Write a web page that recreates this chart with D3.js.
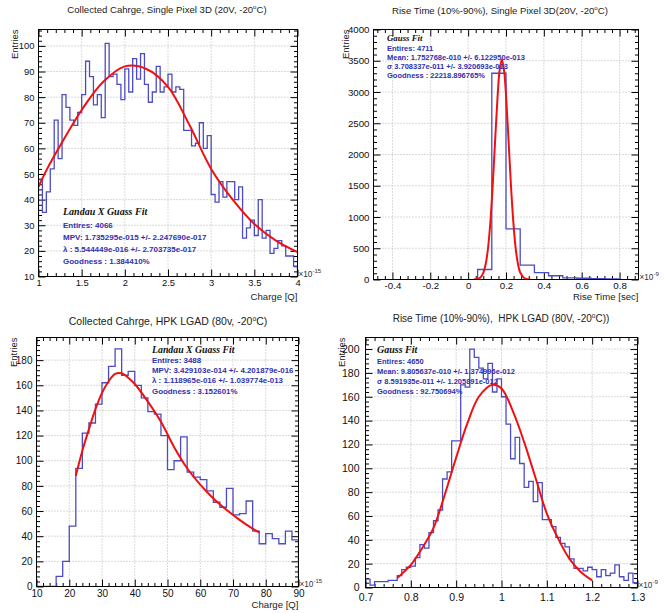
<!DOCTYPE html>
<html>
<head>
<meta charset="utf-8">
<script src="https://cdn.jsdelivr.net/npm/d3@7"></script>
<style>
body { margin: 0; background: #fff; }
svg text { font-family: "Liberation Sans", Arial, sans-serif; white-space: pre; }
</style>
</head>
<body>
<script>
// ---- data ----
// 1. collected charge, single pixel 3D  (x in units of 1e-15)
const charge3dRange = [1, 4];
const charge3dCounts = [48, 35, 43, 52, 71, 56, 81, 76, 71, 69, 74, 81, 94, 88, 77, 81, 72, 101, 88, 89, 85, 79,
  91, 82, 95, 87, 97, 85, 78, 82, 92, 82, 84, 89, 82, 84, 83, 67, 67, 61, 62, 70, 60, 65,
  42, 39, 47, 41, 47, 47, 40, 45, 25, 29, 32, 26, 40, 25, 28, 19, 21, 24, 22, 18, 18, 14];
const charge3dFitX = [1.0, 1.1, 1.25, 1.5, 1.75, 2.0, 2.25, 2.5, 2.75, 3.0, 3.25, 3.5, 3.75, 4.0];
const charge3dFitY = [45, 52, 61, 75, 86, 92, 91, 84, 69, 52, 40, 30.5, 24, 19.5];
const charge3dLegend = ["Entires: 4066", "MPV: 1.735295e-015 +/- 2.247690e-017",
  "\u03bb : 5.544449e-016 +/- 2.703735e-017", "Goodness : 1.384410%"];

// 2. rise time, single pixel 3D  (x in units of 1e-9)
const rise3dRange = [0.05, 0.8];
const rise3dCounts = [160, 3300, 810, 230, 110, 60, 25, 20, 15, 10];
const rise3dFitX = [0.03, 0.055, 0.0675, 0.08, 0.0925, 0.105, 0.1175, 0.13, 0.1425, 0.155, 0.166, 0.178,
  0.19, 0.2, 0.2125, 0.225, 0.2375, 0.25, 0.2625, 0.275, 0.3, 0.33];
const rise3dFitY = [1, 14, 42, 106, 243, 500, 920, 1520, 2220, 2900, 3340, 3520,
  3340, 2950, 2280, 1570, 970, 530, 260, 113, 16, 1];
const rise3dLegend = ["Entires: 4711", "Mean: 1.752768e-010 +/- 6.122950e-013",
  "\u03c3 3.708337e-011 +/- 3.920693e-013", "Goodness : 22218.896765%"];

// 3. collected charge, HPK LGAD  (x in units of 1e-15)
const chargeLgadRange = [10, 90];
const chargeLgadCounts = [0, 0, 0, 8, 20, 48, 94, 122, 130, 145, 162, 175, 189, 168, 171, 160, 150, 139, 137, 120,
  93, 100, 119, 91, 87, 85, 76, 67, 63, 78, 57, 58, 68, 44, 34, 42, 38, 34, 44, 37];
const chargeLgadFitX = [22, 24, 26, 28, 30, 32, 34, 36, 38, 40, 44, 48, 52, 56, 60, 64, 68, 72, 76, 78];
const chargeLgadFitY = [88, 108, 125, 141, 154, 163, 169, 169.5, 166, 161, 147, 131, 111, 94, 81, 70, 61, 53, 46, 43];
const chargeLgadLegend = ["Entires: 3488", "MPV: 3.429103e-014 +/- 4.201879e-016",
  "\u03bb : 1.118965e-016 +/- 1.039774e-013", "Goodness : 3.152601%"];

// 4. rise time, HPK LGAD  (x in units of 1e-9)
const riseLgadRange = [0.7, 1.3];
const riseLgadCounts = [7, 2, 5, 5, 5, 6, 6, 10, 15, 17, 18, 25, 36, 33, 46, 56, 65, 91, 97, 123,
  123, 170, 168, 200, 193, 184, 175, 188, 164, 175, 160, 137, 108, 126, 104, 84, 89, 72, 88, 57,
  57, 51, 42, 37, 34, 24, 16, 16, 14, 17, 15, 9, 15, 10, 12, 19, 9, 6, 12, 4];
const riseLgadFitX = [0.77, 0.8, 0.825, 0.85, 0.875, 0.9, 0.925, 0.95, 0.98, 1.0, 1.025, 1.05, 1.075, 1.1, 1.125, 1.15, 1.175, 1.2];
const riseLgadFitY = [8, 19, 33, 50, 78, 109, 138, 160, 170, 167, 148, 122, 92, 62, 41, 24, 13, 6];
const riseLgadLegend = ["Entires: 4650", "Mean: 9.805637e-010 +/- 1.374996e-012",
  "\u03c3 8.591935e-011 +/- 1.205891e-012", "Goodness : 92.750694%"];

const svg = d3.select("body").append("svg").attr("width", 664).attr("height", 613);

// tick values in [lo,hi] on a step grid (integer maths to avoid float drift)
function stepTicks(lo, hi, step, skipEvery) {
  const out = [];
  for (let k = Math.ceil(lo / step - 1e-9); k * step <= hi + 1e-9; k++) {
    if (skipEvery && k % skipEvery === 0) continue;
    out.push(+(k * step).toFixed(6));
  }
  return out;
}
const fmt = d => String(+d.toFixed(4));

function drawPanel(p) {
  const w = p.box.w, h = p.box.h;
  const g = svg.append("g").attr("transform", "translate(" + p.box.x + "," + p.box.y + ")");
  const x = d3.scaleLinear().domain(p.xDomain).range([0, w]);
  const y = d3.scaleLinear().domain(p.yDomain).range([h, 0]);

  const xMaj = stepTicks(p.xDomain[0], p.xDomain[1], p.xStep);
  const yMaj = stepTicks(p.yDomain[0], p.yDomain[1], p.yStep);
  const xMin = stepTicks(p.xDomain[0], p.xDomain[1], p.xStep / 5, 5);
  const yMin = stepTicks(p.yDomain[0], p.yDomain[1], p.yStep / 5, 5);

  // dotted grid
  g.append("g").selectAll("line").data(xMaj.filter(v => x(v) > 1 && x(v) < w - 1)).enter().append("line")
    .attr("x1", d => x(d)).attr("x2", d => x(d)).attr("y1", 0).attr("y2", h)
    .attr("stroke", "#b4b4b4").attr("stroke-dasharray", "1,2");
  g.append("g").selectAll("line").data(yMaj.filter(v => y(v) > 1 && y(v) < h - 1)).enter().append("line")
    .attr("y1", d => y(d)).attr("y2", d => y(d)).attr("x1", 0).attr("x2", w)
    .attr("stroke", "#b4b4b4").attr("stroke-dasharray", "1,2");

  // axes: ticks inside the frame on all four sides
  const majLen = 7, minLen = 3.5;
  const styleAxis = sel => {
    sel.select(".domain").remove();
    sel.selectAll("line").attr("stroke", "#000");
    sel.selectAll("text").attr("font-size", p.tickFont).attr("fill", "#111")
      .style("font-family", "'Liberation Sans', Arial, sans-serif");
  };
  g.append("g").attr("transform", "translate(0," + h + ")")
    .call(d3.axisBottom(x).tickValues(xMaj).tickSizeInner(-majLen).tickSizeOuter(0).tickPadding(p.xPad).tickFormat(fmt)).call(styleAxis);
  g.append("g").attr("transform", "translate(0," + h + ")")
    .call(d3.axisBottom(x).tickValues(xMin).tickSizeInner(-minLen).tickSizeOuter(0).tickFormat("")).call(styleAxis);
  g.append("g").call(d3.axisTop(x).tickValues(xMaj).tickSizeInner(-majLen).tickSizeOuter(0).tickFormat("")).call(styleAxis);
  g.append("g").call(d3.axisTop(x).tickValues(xMin).tickSizeInner(-minLen).tickSizeOuter(0).tickFormat("")).call(styleAxis);
  g.append("g")
    .call(d3.axisLeft(y).tickValues(yMaj).tickSizeInner(-majLen).tickSizeOuter(0).tickPadding(p.yPad).tickFormat(fmt)).call(styleAxis);
  g.append("g").call(d3.axisLeft(y).tickValues(yMin).tickSizeInner(-minLen).tickSizeOuter(0).tickFormat("")).call(styleAxis);
  g.append("g").attr("transform", "translate(" + w + ",0)")
    .call(d3.axisRight(y).tickValues(yMaj).tickSizeInner(-majLen).tickSizeOuter(0).tickFormat("")).call(styleAxis);
  g.append("g").attr("transform", "translate(" + w + ",0)")
    .call(d3.axisRight(y).tickValues(yMin).tickSizeInner(-minLen).tickSizeOuter(0).tickFormat("")).call(styleAxis);

  // clip region for the marks
  g.append("clipPath").attr("id", p.id + "-clip").append("rect").attr("width", w).attr("height", h);
  const plot = g.append("g").attr("clip-path", "url(#" + p.id + "-clip)");

  // histogram outline
  const n = p.counts.length;
  const edge = i => p.range[0] + i * (p.range[1] - p.range[0]) / n;
  const base = p.yDomain[0];
  const pts = [[edge(0), base]].concat(p.counts.map((v, i) => [edge(i), v]), [[edge(n), base]]);
  plot.append("path").datum(pts)
    .attr("d", d3.line().x(d => x(d[0])).y(d => y(d[1])).curve(d3.curveStepAfter))
    .attr("fill", "none").attr("stroke", "#4b4bc6").attr("stroke-width", 1.3);

  // fit curve
  const fit = p.fitX.map((v, i) => [v, p.fitY[i]]);
  plot.append("path").datum(fit)
    .attr("d", d3.line().x(d => x(d[0])).y(d => y(d[1])).curve(d3.curveCatmullRom))
    .attr("fill", "none").attr("stroke", "#f01010").attr("stroke-width", 2);

  // frame
  g.append("rect").attr("width", w).attr("height", h).attr("fill", "none").attr("stroke", "#000");

  // title with superscript degree "o"
  const t = svg.append("text").attr("x", p.title.x).attr("y", p.title.y)
    .attr("text-anchor", "middle").attr("font-size", p.title.size).attr("fill", "#222");
  t.append("tspan").text(p.title.pre);
  t.append("tspan").text("o").attr("font-size", p.title.size * 0.65).attr("dy", -p.title.size * 0.4);
  t.append("tspan").text(p.title.post).attr("dy", p.title.size * 0.4);

  // axis titles
  svg.append("text").attr("transform", "translate(" + p.yLabel.x + "," + p.box.y + ") rotate(-90)")
    .attr("text-anchor", "end").attr("font-size", p.yLabel.size).attr("fill", "#222").text("Entries");
  if (p.xLabel) {
    svg.append("text").attr("x", p.box.x + w).attr("y", p.xLabel.y).attr("text-anchor", "end")
      .attr("font-size", p.xLabel.size).attr("fill", "#222").text(p.xLabel.text);
  }
  // exponent of the x axis
  const ex = svg.append("text").attr("x", p.box.x + w + 1).attr("y", p.box.y + h)
    .attr("font-size", p.expSize).attr("fill", "#333");
  ex.append("tspan").text("\u00d710");
  ex.append("tspan").text(p.exp).attr("font-size", p.expSize * 0.75).attr("dy", -p.expSize * 0.45);

  // fit legend
  const lg = p.legend;
  svg.append("text").attr("x", lg.x).attr("y", lg.y).attr("font-size", lg.headSize)
    .attr("font-weight", "bold").attr("font-style", "italic").attr("fill", "#111")
    .style("font-family", "'Liberation Serif', 'Times New Roman', serif").text(lg.head);
  svg.append("g").selectAll("text").data(p.legendLines).enter().append("text")
    .attr("x", lg.x).attr("y", (d, i) => lg.y + lg.first + i * lg.step)
    .attr("font-size", lg.size).attr("font-weight", "bold").attr("fill", "#3030b0").text(d => d);
}

drawPanel({
  id: "p1", box: { x: 38.5, y: 29.5, w: 259, h: 247 },
  xDomain: [1, 4], yDomain: [10, 106.4], xStep: 0.5, yStep: 10,
  range: charge3dRange, counts: charge3dCounts, fitX: charge3dFitX, fitY: charge3dFitY,
  tickFont: 9.4, xPad: 3, yPad: 4,
  title: { x: 167, y: 13, size: 9.6, pre: "Collected Cahrge, Single Pixel 3D (20V, -20", post: "C)" },
  yLabel: { x: 18, size: 9.5 }, xLabel: { y: 299.5, size: 9.6, text: "Charge [Q]" },
  exp: "-15", expSize: 8.2,
  legend: { x: 63, y: 215, head: "Landau X Guass Fit", headSize: 10, size: 8, first: 13, step: 12 },
  legendLines: charge3dLegend
});

drawPanel({
  id: "p2", box: { x: 373.5, y: 29.5, w: 265, h: 250 },
  xDomain: [-0.5, 0.9], yDomain: [0, 4000], xStep: 0.2, yStep: 500,
  range: rise3dRange, counts: rise3dCounts, fitX: rise3dFitX, fitY: rise3dFitY,
  tickFont: 9.7, xPad: 3, yPad: 4,
  title: { x: 500, y: 14, size: 9.6, pre: "Rise Time (10%-90%), Single Pixel 3D(20V, -20", post: "C)" },
  yLabel: { x: 349, size: 9.5 }, xLabel: { y: 300, size: 9.6, text: "Rise Time [sec]" },
  exp: "-9", expSize: 8.2,
  legend: { x: 387, y: 41, head: "Gauss Fit", headSize: 8.8, size: 7.5, first: 9.5, step: 9 },
  legendLines: rise3dLegend
});

drawPanel({
  id: "p3", box: { x: 36.5, y: 337.5, w: 262, h: 249 },
  xDomain: [10, 90], yDomain: [0, 198], xStep: 10, yStep: 20,
  range: chargeLgadRange, counts: chargeLgadCounts, fitX: chargeLgadFitX, fitY: chargeLgadFitY,
  tickFont: 10, xPad: 3.5, yPad: 4,
  title: { x: 168, y: 325, size: 10.5, pre: "Collected Cahrge, HPK LGAD (80v, -20", post: "C)" },
  yLabel: { x: 17, size: 9.5 }, xLabel: { y: 608, size: 9.6, text: "Charge [Q]" },
  exp: "-15", expSize: 8.2,
  legend: { x: 152, y: 352.5, head: "Landau X Guass Fit", headSize: 9.8, size: 7.9, first: 10.5, step: 10.2 },
  legendLines: chargeLgadLegend
});

drawPanel({
  id: "p4", box: { x: 365.5, y: 337.5, w: 272, h: 250 },
  xDomain: [0.7, 1.3], yDomain: [0, 209.7], xStep: 0.1, yStep: 20,
  range: riseLgadRange, counts: riseLgadCounts, fitX: riseLgadFitX, fitY: riseLgadFitY,
  tickFont: 10.5, xPad: 6.5, yPad: 6,
  title: { x: 501, y: 322, size: 10, pre: "Rise Time (10%-90%),  HPK LGAD (80V, -20", post: "C))" },
  yLabel: { x: 345, size: 9.5 }, xLabel: null,
  exp: "-9", expSize: 8.2,
  legend: { x: 377, y: 352.5, head: "Gauss Fit", headSize: 10, size: 7.5, first: 11, step: 10.2 },
  legendLines: riseLgadLegend
});
</script>
</body>
</html>
